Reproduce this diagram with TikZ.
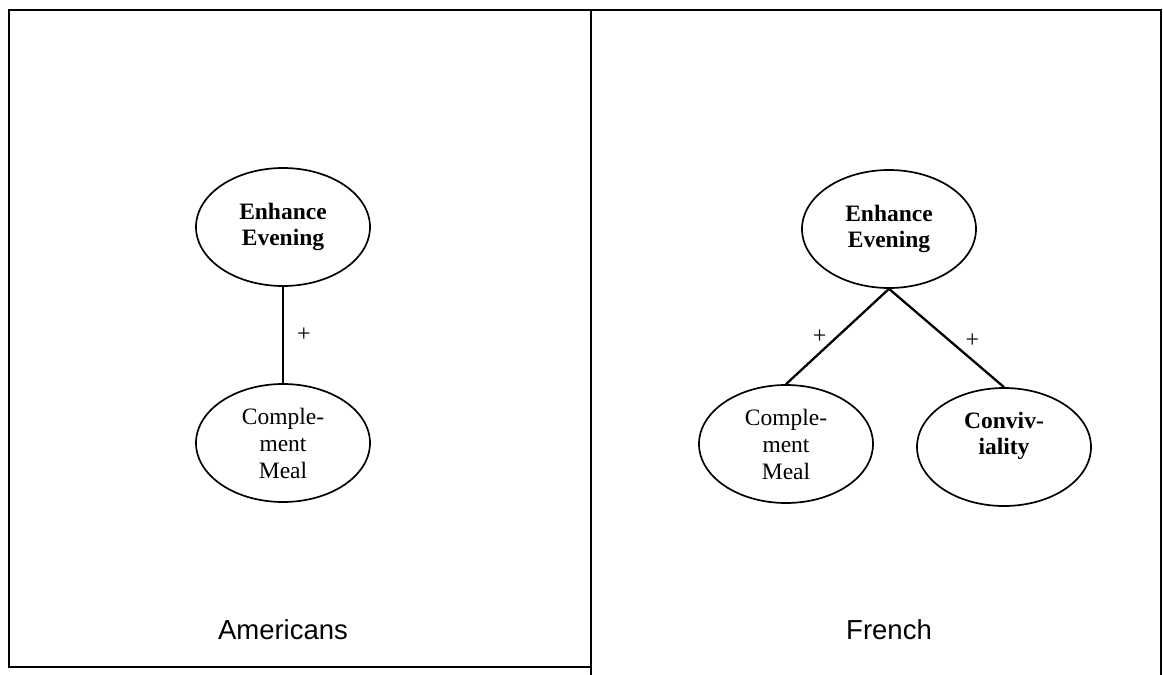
\documentclass[tikz,border=0pt]{standalone}
\usepackage{fontspec}
\setmainfont{Liberation Serif}
\newfontfamily\labelfont{Liberation Sans}
\usetikzlibrary{shapes.geometric}
\tikzset{
  frameline/.style={line width=2.4pt, line cap=rect},
  bubble/.style={ellipse, draw, line width=1.7pt, minimum width=174pt, minimum height=118pt,
    inner sep=0pt, align=center, font=\fontsize{23.5}{27}\selectfont},
  boldbubble/.style={bubble, font=\fontsize{23.5}{26.5}\selectfont\bfseries},
  bubbletext/.style={inner sep=0pt, align=center, font=\fontsize{23.5}{26}\selectfont\bfseries},
  link/.style={line width=2.3pt},
  sign/.style={inner sep=0pt, font=\fontsize{24}{26}\selectfont},
  panellabel/.style={inner sep=0pt, font=\labelfont\fontsize{27.5}{30}\selectfont}
}
\begin{document}
\begin{tikzpicture}[x=1pt,y=-1pt]
\useasboundingbox (0,0) rectangle (1163,675);
% frames
\coordinate (tl) at (9,10);
\coordinate (tm) at (591,10);
\coordinate (tr) at (1161,10);
\coordinate (bl) at (9,667);
\coordinate (bm) at (591,675);
\coordinate (bml) at (591,667);
\coordinate (br) at (1161,675);
\draw[frameline] (tr) -- (tl) -- (bl) -- (bml);
\draw[frameline] (tm) -- (bm);
\draw[frameline] (tr) -- (br);
% left panel
\node[boldbubble] (lee) at (283,227) {Enhance\\Evening};
\node[bubble] (lcm) at (283,443) {Comple-\\ment\\Meal};
\draw[link] (lee.south) -- node[sign, midway, right=13pt] {+} (lcm.north);
\node[panellabel] (am) at (283,630) {Americans};
% right panel
\node[boldbubble] (ree) at (889,229) {Enhance\\Evening};
\node[bubble] (rcm) at (786,444) {Comple-\\ment\\Meal};
\node[bubble] (rcv) at (1004,447) {};
\node[bubbletext] (rcvt) at (1004,436) {Conviv-\\iality};
\draw[link] (ree.south) -- node[sign, midway, left=10pt] {+} (rcm.north);
\draw[link] (ree.south) -- node[sign, midway, right=18pt, yshift=-3pt] {+} (rcv.north);
\node[panellabel] (fr) at (889,630) {French};
\end{tikzpicture}
\end{document}
